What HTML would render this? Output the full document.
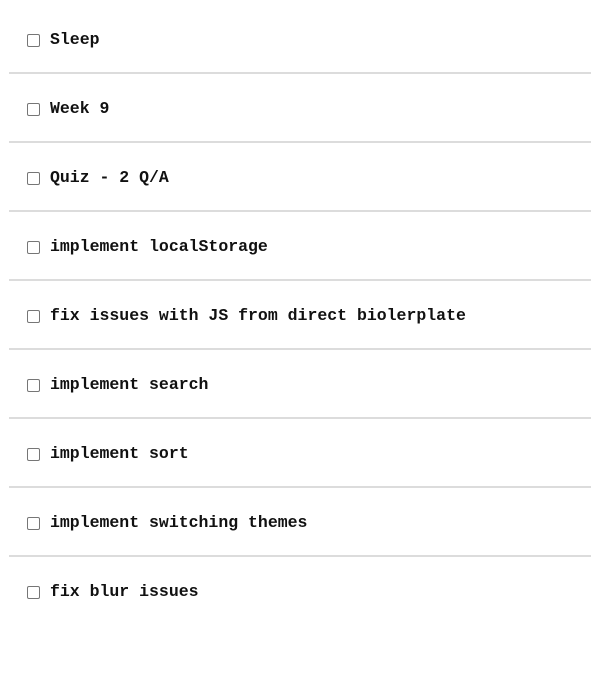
<!DOCTYPE html>
<html><head><style>
body{margin:0;width:591px;height:696px;background:#fff;overflow:hidden;font-family:"Liberation Mono",monospace;}
.row{position:absolute;left:9px;width:582px;height:69px;}
.row.d{border-bottom:2px solid #dcdcdc;box-sizing:border-box;}
.cb{position:absolute;left:18px;top:29px;width:11px;height:11px;border:1px solid #767676;border-radius:2px;background:#fff;}
.t{position:absolute;left:41px;top:25px;font-size:16.5px;font-weight:bold;color:#111;line-height:20px;white-space:pre;}
</style></head><body>
<div class="row d" style="top:5px"><div class="cb"></div><div class="t">Sleep</div></div>
<div class="row d" style="top:74px"><div class="cb"></div><div class="t">Week 9</div></div>
<div class="row d" style="top:143px"><div class="cb"></div><div class="t">Quiz - 2 Q/A</div></div>
<div class="row d" style="top:212px"><div class="cb"></div><div class="t">implement localStorage</div></div>
<div class="row d" style="top:281px"><div class="cb"></div><div class="t">fix issues with JS from direct biolerplate</div></div>
<div class="row d" style="top:350px"><div class="cb"></div><div class="t">implement search</div></div>
<div class="row d" style="top:419px"><div class="cb"></div><div class="t">implement sort</div></div>
<div class="row d" style="top:488px"><div class="cb"></div><div class="t">implement switching themes</div></div>
<div class="row" style="top:557px"><div class="cb"></div><div class="t">fix blur issues</div></div>
</body></html>
